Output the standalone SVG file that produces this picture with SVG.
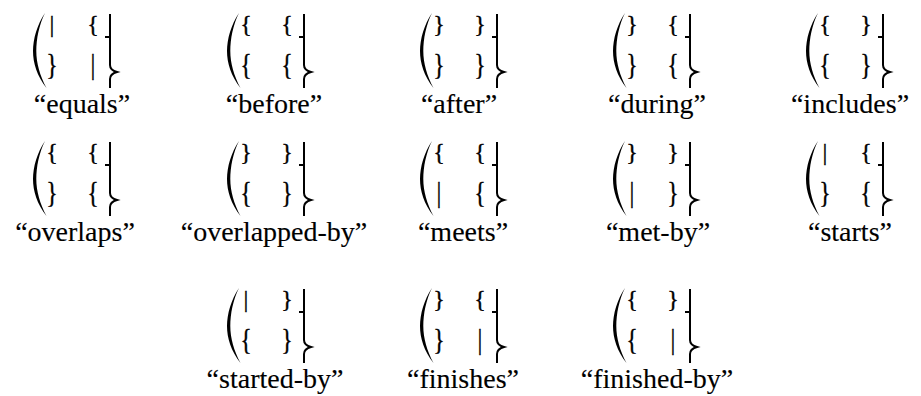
<svg xmlns="http://www.w3.org/2000/svg" xmlns:xlink="http://www.w3.org/1999/xlink" width="921" height="396" viewBox="0 0 921 396">
  <style>
    .g1 { font-size: 24px; stroke: #000; stroke-width: 0.35px; }
    .g2 { font-size: 24px; stroke: #000; stroke-width: 0.3px; }
    .lbl { font-size: 28px; stroke: #000; stroke-width: 0.12px; }
  </style>
  <defs>
    <!-- tall left parenthesis, drawn as a crescent so the ends taper -->
    <path id="lparen" d="M12,0 C4,12 0,26 0,38 C0,50 4,63 13.5,75 C7,63 3.3,50 3.3,38 C3.3,26 6,12 12,0 Z" fill="#000"/>
    <!-- right closing mark: floor corner above, brace point below -->
    <g id="rbrace" fill="none" stroke="#000" stroke-width="2">
      <path d="M77,1 V24 H72"/>
      <path d="M77,24 V52 Q77,57 84,59 Q77,61 77,66 V75"/>
    </g>
  </defs>
  <rect width="921" height="396" fill="#fff"/>

  <g font-family="Liberation Serif" fill="#000" text-anchor="middle">
  <!-- row 1 -->
  <g id="equals" transform="translate(33,13)">
    <use xlink:href="#lparen"/><use xlink:href="#rbrace"/>
    <g class="g1"><text x="19" y="19">|</text><text x="60" y="19">{</text></g>
    <g class="g2" transform="translate(0,61) scale(1,1.2)"><text x="19" y="0">}</text><text x="60" y="0">|</text></g>
    <text class="lbl" x="49" y="100">“equals”</text>
  </g>
  <g id="before" transform="translate(227,13)">
    <use xlink:href="#lparen"/><use xlink:href="#rbrace"/>
    <g class="g1"><text x="19" y="19">{</text><text x="60" y="19">{</text></g>
    <g class="g2" transform="translate(0,61) scale(1,1.2)"><text x="19" y="0">{</text><text x="60" y="0">{</text></g>
    <text class="lbl" x="47" y="100">“before”</text>
  </g>
  <g id="after" transform="translate(420,13)">
    <use xlink:href="#lparen"/><use xlink:href="#rbrace"/>
    <g class="g1"><text x="19" y="19">}</text><text x="60" y="19">}</text></g>
    <g class="g2" transform="translate(0,61) scale(1,1.2)"><text x="19" y="0">}</text><text x="60" y="0">}</text></g>
    <text class="lbl" x="39" y="100">“after”</text>
  </g>
  <g id="during" transform="translate(613,13)">
    <use xlink:href="#lparen"/><use xlink:href="#rbrace"/>
    <g class="g1"><text x="19" y="19">}</text><text x="60" y="19">{</text></g>
    <g class="g2" transform="translate(0,61) scale(1,1.2)"><text x="19" y="0">}</text><text x="60" y="0">{</text></g>
    <text class="lbl" x="44" y="100">“during”</text>
  </g>
  <g id="includes" transform="translate(806,13)">
    <use xlink:href="#lparen"/><use xlink:href="#rbrace"/>
    <g class="g1"><text x="19" y="19">{</text><text x="60" y="19">}</text></g>
    <g class="g2" transform="translate(0,61) scale(1,1.2)"><text x="19" y="0">{</text><text x="60" y="0">}</text></g>
    <text class="lbl" x="44" y="100">“includes”</text>
  </g>

  <!-- row 2 -->
  <g id="overlaps" transform="translate(33,141)">
    <use xlink:href="#lparen"/><use xlink:href="#rbrace"/>
    <g class="g1"><text x="19" y="19">{</text><text x="60" y="19">{</text></g>
    <g class="g2" transform="translate(0,61) scale(1,1.2)"><text x="19" y="0">}</text><text x="60" y="0">{</text></g>
    <text class="lbl" x="42" y="100">“overlaps”</text>
  </g>
  <g id="overlapped-by" transform="translate(227,141)">
    <use xlink:href="#lparen"/><use xlink:href="#rbrace"/>
    <g class="g1"><text x="19" y="19">}</text><text x="60" y="19">}</text></g>
    <g class="g2" transform="translate(0,61) scale(1,1.2)"><text x="19" y="0">{</text><text x="60" y="0">}</text></g>
    <text class="lbl" x="47" y="100">“overlapped-by”</text>
  </g>
  <g id="meets" transform="translate(420,141)">
    <use xlink:href="#lparen"/><use xlink:href="#rbrace"/>
    <g class="g1"><text x="19" y="19">{</text><text x="60" y="19">{</text></g>
    <g class="g2" transform="translate(0,61) scale(1,1.2)"><text x="19" y="0">|</text><text x="60" y="0">{</text></g>
    <text class="lbl" x="43" y="100">“meets”</text>
  </g>
  <g id="met-by" transform="translate(613,141)">
    <use xlink:href="#lparen"/><use xlink:href="#rbrace"/>
    <g class="g1"><text x="19" y="19">}</text><text x="60" y="19">}</text></g>
    <g class="g2" transform="translate(0,61) scale(1,1.2)"><text x="19" y="0">|</text><text x="60" y="0">}</text></g>
    <text class="lbl" x="45" y="100">“met-by”</text>
  </g>
  <g id="starts" transform="translate(806,141)">
    <use xlink:href="#lparen"/><use xlink:href="#rbrace"/>
    <g class="g1"><text x="19" y="19">|</text><text x="60" y="19">{</text></g>
    <g class="g2" transform="translate(0,61) scale(1,1.2)"><text x="19" y="0">}</text><text x="60" y="0">{</text></g>
    <text class="lbl" x="44" y="100">“starts”</text>
  </g>

  <!-- row 3 -->
  <g id="started-by" transform="translate(227,288)">
    <use xlink:href="#lparen"/><use xlink:href="#rbrace"/>
    <g class="g1"><text x="19" y="19">|</text><text x="60" y="19">}</text></g>
    <g class="g2" transform="translate(0,61) scale(1,1.2)"><text x="19" y="0">{</text><text x="60" y="0">}</text></g>
    <text class="lbl" x="48" y="100">“started-by”</text>
  </g>
  <g id="finishes" transform="translate(420,288)">
    <use xlink:href="#lparen"/><use xlink:href="#rbrace"/>
    <g class="g1"><text x="19" y="19">}</text><text x="60" y="19">{</text></g>
    <g class="g2" transform="translate(0,61) scale(1,1.2)"><text x="19" y="0">}</text><text x="60" y="0">|</text></g>
    <text class="lbl" x="43" y="100">“finishes”</text>
  </g>
  <g id="finished-by" transform="translate(613,288)">
    <use xlink:href="#lparen"/><use xlink:href="#rbrace"/>
    <g class="g1"><text x="19" y="19">{</text><text x="60" y="19">}</text></g>
    <g class="g2" transform="translate(0,61) scale(1,1.2)"><text x="19" y="0">{</text><text x="60" y="0">|</text></g>
    <text class="lbl" x="44" y="100">“finished-by”</text>
  </g>
  </g>
</svg>
